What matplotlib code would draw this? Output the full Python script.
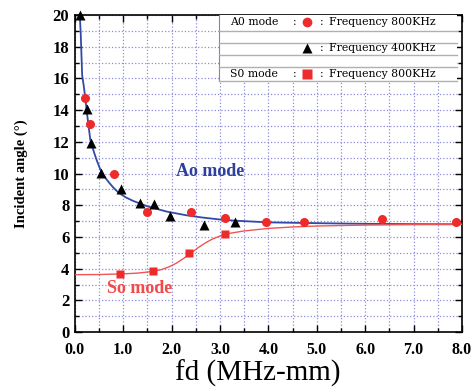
import matplotlib.pyplot as plt
from matplotlib.patches import Rectangle

# A0 mode, 800 kHz (red circles)
a0_800_x = [0.21, 0.32, 0.80, 1.50, 2.39, 3.10, 3.95, 4.73, 6.34, 7.88]
a0_800_y = [14.76, 13.1, 9.95, 7.6, 7.55, 7.17, 6.94, 6.94, 7.13, 6.94]

# A0 mode, 400 kHz (black triangles)
a0_400_x = [0.11, 0.26, 0.34, 0.53, 0.95, 1.34, 1.63, 1.97, 2.67, 3.31]
a0_400_y = [20.0, 14.1, 11.95, 10.05, 9.0, 8.15, 8.05, 7.3, 6.75, 6.95]

# S0 mode, 800 kHz (red squares)
s0_x = [0.93, 1.61, 2.36, 3.10]
s0_y = [3.66, 3.87, 4.98, 6.16]

# fitted curves
ao_fit_x = [0.10, 0.12, 0.13, 0.15, 0.18, 0.21, 0.25, 0.32, 0.40, 0.45, 0.52, 0.58,
            0.65, 0.72, 0.80, 0.90, 1.05, 1.20, 1.50, 1.90, 2.30, 2.60, 3.00, 3.30,
            4.00, 5.00, 6.00, 7.00, 8.00]
ao_fit_y = [20.0, 18.9, 18.0, 16.2, 15.6, 14.9, 13.8, 12.1, 11.3, 10.85, 10.3, 9.95,
            9.65, 9.38, 9.1, 8.8, 8.5, 8.28, 7.93, 7.6, 7.37, 7.24, 7.1, 7.03,
            6.92, 6.87, 6.83, 6.81, 6.80]
so_fit_x = [0.0, 0.5, 1.0, 1.3, 1.6, 1.8, 1.95, 2.1, 2.25, 2.4, 2.55, 2.7, 2.85, 3.0,
            3.2, 3.5, 4.0, 4.5, 5.0, 6.0, 7.0, 8.0]
so_fit_y = [3.62, 3.63, 3.67, 3.72, 3.82, 3.95, 4.12, 4.35, 4.65, 4.98, 5.33, 5.63,
            5.88, 6.06, 6.23, 6.38, 6.54, 6.63, 6.69, 6.75, 6.78, 6.80]

serif = "Liberation Serif"
red = "#ee2b2b"
blue = "#3349a8"

fig = plt.figure(figsize=(4.74, 3.87), dpi=100)
ax = fig.add_axes([0.158, 0.142, 0.8165, 0.819])

ax.plot(ao_fit_x, ao_fit_y, color=blue, lw=1.3, zorder=3)
ax.plot(so_fit_x, so_fit_y, color="#f05555", lw=1.0, zorder=3)

ax.plot(a0_800_x, a0_800_y, "o", color=red, ms=6.5, mec="none", zorder=4, clip_on=False)
ax.plot(a0_400_x, a0_400_y, "^", color="black", ms=7, mec="none", zorder=4, clip_on=False)
ax.plot(s0_x, s0_y, "s", color=red, ms=6, mec="none", zorder=4, clip_on=False)

ax.set_xlim(0, 8)
ax.set_ylim(0, 20)
ax.set_xticks([0, 1, 2, 3, 4, 5, 6, 7, 8])
ax.set_xticklabels(["0.0", "1.0", "2.0", "3.0", "4.0", "5.0", "6.0", "7.0", "8.0"])
ax.set_xticks([0.5, 1.5, 2.5, 3.5, 4.5, 5.5, 6.5, 7.5], minor=True)
ax.set_yticks(range(0, 21, 2))
ax.set_yticks(range(1, 20, 2), minor=True)
ax.tick_params(which="both", direction="in", top=True, right=True, width=1.0)
ax.tick_params(which="major", length=5)
ax.tick_params(which="minor", length=3)
ax.tick_params(axis="x", which="major", pad=7)
ax.tick_params(axis="y", which="major", pad=4)
for lab in ax.get_xticklabels():
    lab.set_fontfamily(serif)
    lab.set_fontweight("bold")
    lab.set_fontsize(11.5)
for lab in ax.get_yticklabels():
    lab.set_fontfamily(serif)
    lab.set_fontweight("bold")
    lab.set_fontsize(12)
ax.grid(which="both", color="#8c8cdc", ls=":", lw=0.9)
for s in ax.spines.values():
    s.set_linewidth(1.2)

ax.set_xlabel("fd (MHz-mm)", fontfamily=serif, fontsize=21)
ax.xaxis.set_label_coords(0.472, -0.088)
ax.set_ylabel("Incident angle (°)", fontfamily=serif, fontweight="bold", fontsize=10.5)
ax.yaxis.set_label_coords(-0.122, 0.5)

ax.text(2.1, 10.1, "Ao mode", color="#2c409c", fontfamily=serif, fontweight="bold",
        fontsize=13, va="center")
ax.text(0.66, 2.75, "So mode", color="#f04a4a", fontfamily=serif, fontweight="bold",
        fontsize=13, va="center")

# table-like legend in the upper right
ax.add_patch(Rectangle((0.372, 0.792), 0.615, 0.21, transform=ax.transAxes,
                       facecolor="white", edgecolor="none", zorder=5))
ax.plot([0.372, 0.372], [0.792, 1.0], transform=ax.transAxes, color="#888888", lw=0.8, zorder=6)
for yy in [0.950, 0.912, 0.874, 0.836, 0.792]:
    ax.plot([0.372, 0.987], [yy, yy], transform=ax.transAxes, color="#b0b0b0", lw=1.0, zorder=6)

rows = [(0.977, "A0 mode", "o", "Frequency 800KHz", red),
        (0.895, "", "^", "Frequency 400KHz", "black"),
        (0.813, "S0 mode", "s", "Frequency 800KHz", red)]
for yy, mode, mk, freq, col in rows:
    kw = dict(transform=ax.transAxes, fontfamily="DejaVu Serif", fontsize=7.8,
              va="center", zorder=7)
    if mode:
        ax.text(0.402, yy, mode, **kw)
        ax.text(0.562, yy, ":", **kw)
    ax.plot([0.599], [yy], mk, color=col, ms=7 if mk == "o" else 6.5, mec="none",
            transform=ax.transAxes, zorder=7, clip_on=False)
    ax.text(0.632, yy, ":", **kw)
    ax.text(0.657, yy, freq, **kw)

fig.savefig("out.png", dpi=100)
